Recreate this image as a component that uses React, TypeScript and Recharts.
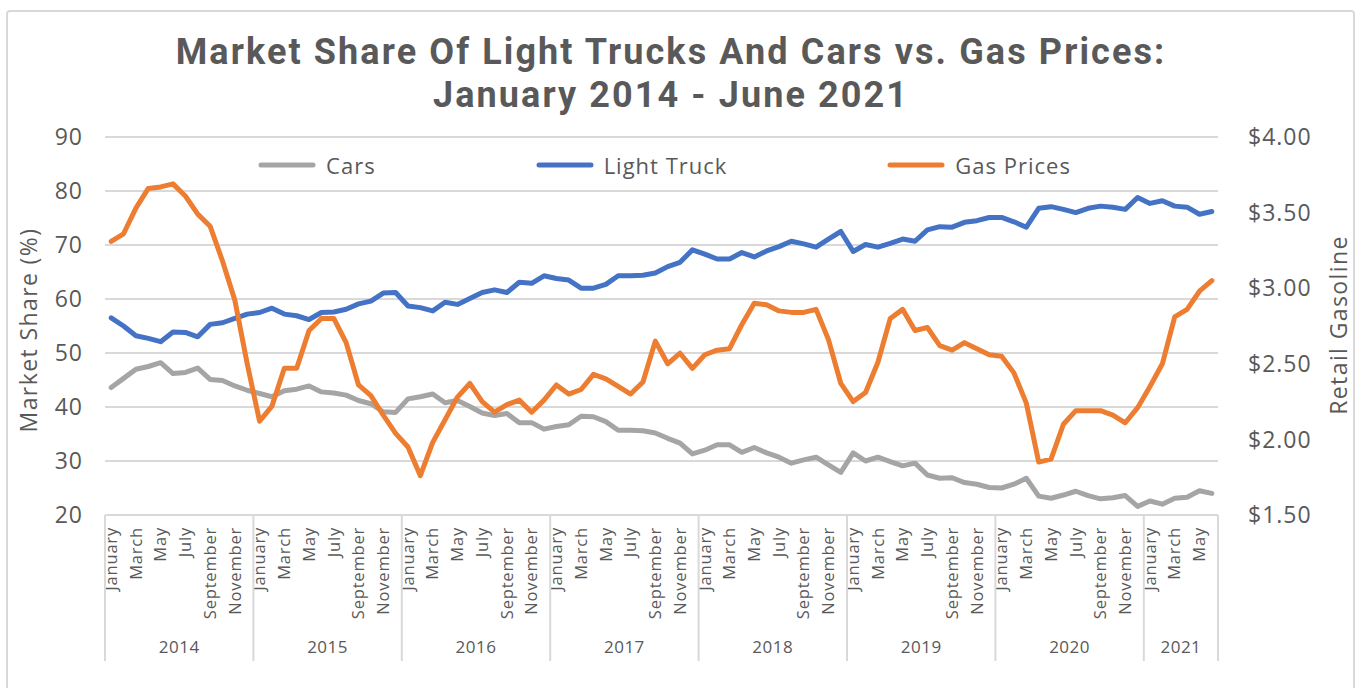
import React from 'react';
import { LineChart, Line, XAxis, YAxis, CartesianGrid, Legend } from 'recharts';

// Jan 2014 - Jun 2021, one row per year
const years = [2014, 2015, 2016, 2017, 2018, 2019, 2020, 2021];
const monthNames = [
  'January', 'February', 'March', 'April', 'May', 'June',
  'July', 'August', 'September', 'October', 'November', 'December',
];
const seriesOrder = ['Cars', 'Light Truck', 'Gas Prices'];

// market share of cars (%)
const carsShare = [
  [43.6, 45.3, 47.0, 47.5, 48.2, 46.2, 46.4, 47.2, 45.1, 44.9, 43.9, 43.1],
  [42.5, 41.9, 43.0, 43.3, 43.9, 42.8, 42.6, 42.2, 41.2, 40.6, 39.1, 39.0],
  [41.5, 41.9, 42.4, 40.8, 41.2, 40.1, 38.9, 38.4, 38.8, 37.1, 37.1, 35.9],
  [36.4, 36.7, 38.3, 38.2, 37.3, 35.7, 35.7, 35.6, 35.2, 34.2, 33.3, 31.3],
  [32.0, 33.0, 33.0, 31.6, 32.5, 31.5, 30.7, 29.6, 30.2, 30.7, 29.3, 27.9],
  [31.5, 30.0, 30.7, 29.9, 29.1, 29.6, 27.4, 26.8, 26.9, 26.0, 25.7, 25.1],
  [25.0, 25.7, 26.8, 23.5, 23.1, 23.7, 24.4, 23.6, 23.0, 23.2, 23.6, 21.6],
  [22.6, 22.0, 23.1, 23.3, 24.5, 24.0],
];

// market share of light trucks (%)
const truckShare = [
  [56.5, 55.0, 53.2, 52.7, 52.1, 53.9, 53.8, 53.0, 55.3, 55.6, 56.4, 57.2],
  [57.5, 58.3, 57.2, 56.9, 56.2, 57.5, 57.6, 58.1, 59.1, 59.6, 61.1, 61.2],
  [58.7, 58.4, 57.8, 59.4, 59.0, 60.1, 61.2, 61.7, 61.2, 63.1, 62.9, 64.3],
  [63.8, 63.5, 62.0, 62.0, 62.7, 64.3, 64.3, 64.4, 64.8, 66.0, 66.8, 69.1],
  [68.3, 67.4, 67.4, 68.6, 67.8, 68.9, 69.7, 70.7, 70.2, 69.6, 71.1, 72.5],
  [68.8, 70.1, 69.6, 70.3, 71.1, 70.7, 72.8, 73.4, 73.3, 74.2, 74.5, 75.1],
  [75.1, 74.3, 73.3, 76.8, 77.1, 76.6, 76.0, 76.8, 77.2, 77.0, 76.6, 78.8],
  [77.7, 78.2, 77.2, 77.0, 75.7, 76.2],
];

// retail gasoline ($/gal)
const gasPrice = [
  [3.31, 3.36, 3.53, 3.66, 3.67, 3.69, 3.61, 3.49, 3.41, 3.18, 2.92, 2.50],
  [2.12, 2.22, 2.47, 2.47, 2.72, 2.80, 2.80, 2.64, 2.36, 2.29, 2.16, 2.04],
  [1.95, 1.76, 1.98, 2.13, 2.28, 2.37, 2.25, 2.18, 2.23, 2.26, 2.18, 2.26],
  [2.36, 2.30, 2.33, 2.43, 2.40, 2.35, 2.30, 2.38, 2.65, 2.50, 2.57, 2.47],
  [2.56, 2.59, 2.60, 2.76, 2.90, 2.89, 2.85, 2.84, 2.84, 2.86, 2.66, 2.37],
  [2.25, 2.31, 2.51, 2.80, 2.86, 2.72, 2.74, 2.62, 2.59, 2.64, 2.60, 2.56],
  [2.55, 2.44, 2.24, 1.85, 1.87, 2.10, 2.19, 2.19, 2.19, 2.16, 2.11, 2.21],
  [2.35, 2.50, 2.81, 2.86, 2.98, 3.05],
];

const shareTicks = [20, 30, 40, 50, 60, 70, 80, 90];
const priceTicks = [1.5, 2, 2.5, 3, 3.5, 4];

const data = years.flatMap((year, yi) =>
  carsShare[yi].map((cars, m) => ({
    key: `${year}-${m + 1}`,
    year,
    month: m,
    monthsInYear: carsShare[yi].length,
    cars,
    truck: truckShare[yi][m],
    gas: gasPrice[yi][m],
  }))
);

const TEXT = '#595959';
const GRID = '#d9d9d9';
const FONT = '"Open Sans", Lato, sans-serif';
const TITLE_FONT = 'Roboto, "Open Sans", sans-serif';
const PLOT_W = 1113;
const STEP = PLOT_W / data.length;

function MonthTick(props: any) {
  const { x, y, payload } = props;
  const row = data[payload.index];
  if (!row) return null;
  const last = payload.index === data.length - 1;
  return (
    <g>
      {row.month % 2 === 0 && (
        <text
          x={x}
          y={y + 12}
          dy="0.35em"
          textAnchor="end"
          transform={`rotate(-90, ${x}, ${y + 12})`}
          fill={TEXT}
          fontSize={16.5}
          letterSpacing={0.8}
          fontFamily={FONT}
        >
          {monthNames[row.month]}
        </text>
      )}
      {row.month === 0 && (
        <>
          <line x1={x - STEP / 2} y1={y} x2={x - STEP / 2} y2={y + 146} stroke={GRID} strokeWidth={2} />
          <text
            x={x - STEP / 2 + (row.monthsInYear * STEP) / 2}
            y={y + 132}
            dy="0.35em"
            textAnchor="middle"
            fill={TEXT}
            fontSize={17}
            letterSpacing={0.5}
            fontFamily={FONT}
          >
            {row.year}
          </text>
        </>
      )}
      {last && <line x1={x + STEP / 2} y1={y} x2={x + STEP / 2} y2={y + 146} stroke={GRID} strokeWidth={2} />}
    </g>
  );
}

function LegendContent({ payload }: any) {
  const items = [...(payload || [])].sort(
    (a: any, b: any) => seriesOrder.indexOf(a.value) - seriesOrder.indexOf(b.value)
  );
  return (
    <div style={{ display: 'flex', justifyContent: 'center', gap: 160, fontFamily: FONT, fontSize: 22, letterSpacing: 1, color: TEXT }}>
      {items.map((p: any) => (
        <div key={p.value} style={{ display: 'flex', alignItems: 'center' }}>
          <svg width={58} height={10}>
            <line x1={3} y1={5} x2={55} y2={5} stroke={p.color} strokeWidth={5} strokeLinecap="round" />
          </svg>
          <span style={{ marginLeft: 10 }}>{p.value}</span>
        </div>
      ))}
    </div>
  );
}

function AxisTitle({ value, cx, cy }: any) {
  return (
    <text
      x={cx}
      y={cy}
      dy="0.35em"
      textAnchor="middle"
      transform={`rotate(-90, ${cx}, ${cy})`}
      fill={TEXT}
      fontSize={23}
      letterSpacing={1.4}
      fontFamily={FONT}
    >
      {value}
    </text>
  );
}

export default function App() {
  return (
    <div style={{ position: 'absolute', left: 0, top: 0, width: 1361, height: 688, background: '#fff', overflow: 'hidden' }}>
      <div
        style={{
          position: 'absolute', left: 6, top: 10, width: 1349, height: 700,
          border: `2px solid ${GRID}`, borderRadius: 4, boxSizing: 'border-box',
        }}
      />
      <div
        style={{
          position: 'absolute', left: 0, top: 31, width: 1342, textAlign: 'center',
          fontFamily: TITLE_FONT, fontWeight: 700, fontSize: 36, lineHeight: '43px',
          letterSpacing: 2.1, color: TEXT,
        }}
      >
        Market Share Of Light Trucks And Cars vs. Gas Prices:
        <br />
        January 2014 - June 2021
      </div>
      <div style={{ position: 'absolute', left: 0, top: 0 }}>
        <LineChart width={1361} height={688} data={data} margin={{ top: 137, right: 0, bottom: 0, left: 0 }}>
          <CartesianGrid yAxisId="left" vertical={false} stroke={GRID} strokeWidth={2} />
          <XAxis
            dataKey="key"
            interval={0}
            height={173}
            padding={{ left: STEP / 2, right: STEP / 2 }}
            tickSize={0}
            tickMargin={0}
            tickLine={false}
            axisLine={{ stroke: GRID, strokeWidth: 2 }}
            tick={<MonthTick />}
          />
          <YAxis
            yAxisId="left"
            domain={[20, 90]}
            ticks={shareTicks}
            width={105}
            tickSize={0}
            tickMargin={22}
            axisLine={false}
            tickLine={false}
            tick={{ fill: TEXT, fontSize: 23, letterSpacing: 1, fontFamily: FONT }}
            label={() => <AxisTitle value="Market Share (%)" cx={29} cy={330} />}
          />
          <YAxis
            yAxisId="right"
            orientation="right"
            domain={[1.5, 4]}
            ticks={priceTicks}
            width={143}
            tickSize={0}
            tickMargin={30}
            axisLine={false}
            tickLine={false}
            tickFormatter={(v: number) => `$${v.toFixed(2)}`}
            tick={{ fill: TEXT, fontSize: 23, letterSpacing: 1, fontFamily: FONT, textAnchor: 'start' }}
            label={() => <AxisTitle value="Retail Gasoline" cx={1339} cy={325} />}
          />
          <Legend
            verticalAlign="middle"
            layout="horizontal"
            wrapperStyle={{ top: 150, left: 108, width: 1113 }}
            content={<LegendContent />}
          />
          <Line yAxisId="left" type="linear" dataKey="cars" name="Cars" stroke="#A5A5A5" strokeWidth={5}
            strokeLinejoin="round" strokeLinecap="round" dot={false} isAnimationActive={false} />
          <Line yAxisId="left" type="linear" dataKey="truck" name="Light Truck" stroke="#4472C4" strokeWidth={5}
            strokeLinejoin="round" strokeLinecap="round" dot={false} isAnimationActive={false} />
          <Line yAxisId="right" type="linear" dataKey="gas" name="Gas Prices" stroke="#ED7D31" strokeWidth={5}
            strokeLinejoin="round" strokeLinecap="round" dot={false} isAnimationActive={false} />
        </LineChart>
      </div>
    </div>
  );
}
